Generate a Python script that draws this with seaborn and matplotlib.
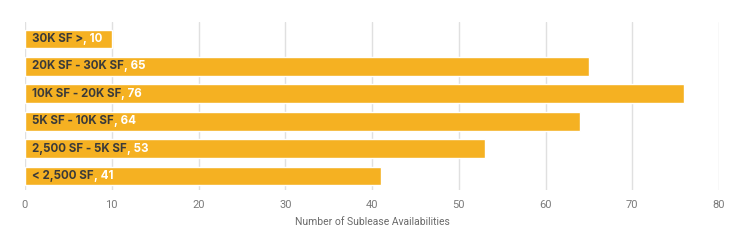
import matplotlib
matplotlib.use("Agg")
import matplotlib.pyplot as plt
import seaborn as sns
import pandas as pd

categories = ["30K SF >", "20K SF - 30K SF", "10K SF - 20K SF", "5K SF - 10K SF", "2,500 SF - 5K SF", "< 2,500 SF"]
values = [10, 65, 76, 64, 53, 41]
x_ticks = [0, 10, 20, 30, 40, 50, 60, 70, 80]
x_label = "Number of Sublease Availabilities"

sns.set_theme(style="white")
plt.rcParams['font.family'] = ['Inter', 'DejaVu Sans']

df = pd.DataFrame({"cat": categories, "val": values})

fig = plt.figure(figsize=(7.47, 2.43), dpi=100)
ax = fig.add_axes([25/747, 1-190/243, (719-25)/747, (190-22)/243])

sns.barplot(data=df, x="val", y="cat", orient="h", color="#F5B122", saturation=1,
            width=0.68, ax=ax, zorder=2)

ax.set_xlim(0, 80)
ax.set_ylim(5.51, -0.62)
ax.set_xticks(x_ticks)
ax.set_xticklabels([str(t) for t in x_ticks], color="#7a7a7a", fontsize=8,
                   family=['Roboto', 'DejaVu Sans'])
ax.tick_params(axis='x', length=0, pad=7)
ax.set_yticks([])
ax.set_ylabel("")
ax.set_xlabel(x_label, color="#6a6a6a", fontsize=7.5, family=['Roboto', 'DejaVu Sans'], labelpad=5)
ax.grid(axis='x', color="#e0e0e0", linewidth=1, zorder=0)
ax.set_axisbelow(True)
for s in ax.spines.values():
    s.set_visible(False)

for i, (c, v) in enumerate(zip(categories, values)):
    t = ax.annotate(c, xy=(0, i), xytext=(5, 0), textcoords="offset points",
                    va="center", ha="left", fontsize=8.3, fontweight="bold",
                    color="#3a3a3a", zorder=3)
    ax.annotate(f", {v}", xycoords=t, xy=(1, 0), va="bottom", ha="left",
                fontsize=8.3, fontweight="bold", color="white", zorder=3)

fig.savefig("out.png", dpi=100)
